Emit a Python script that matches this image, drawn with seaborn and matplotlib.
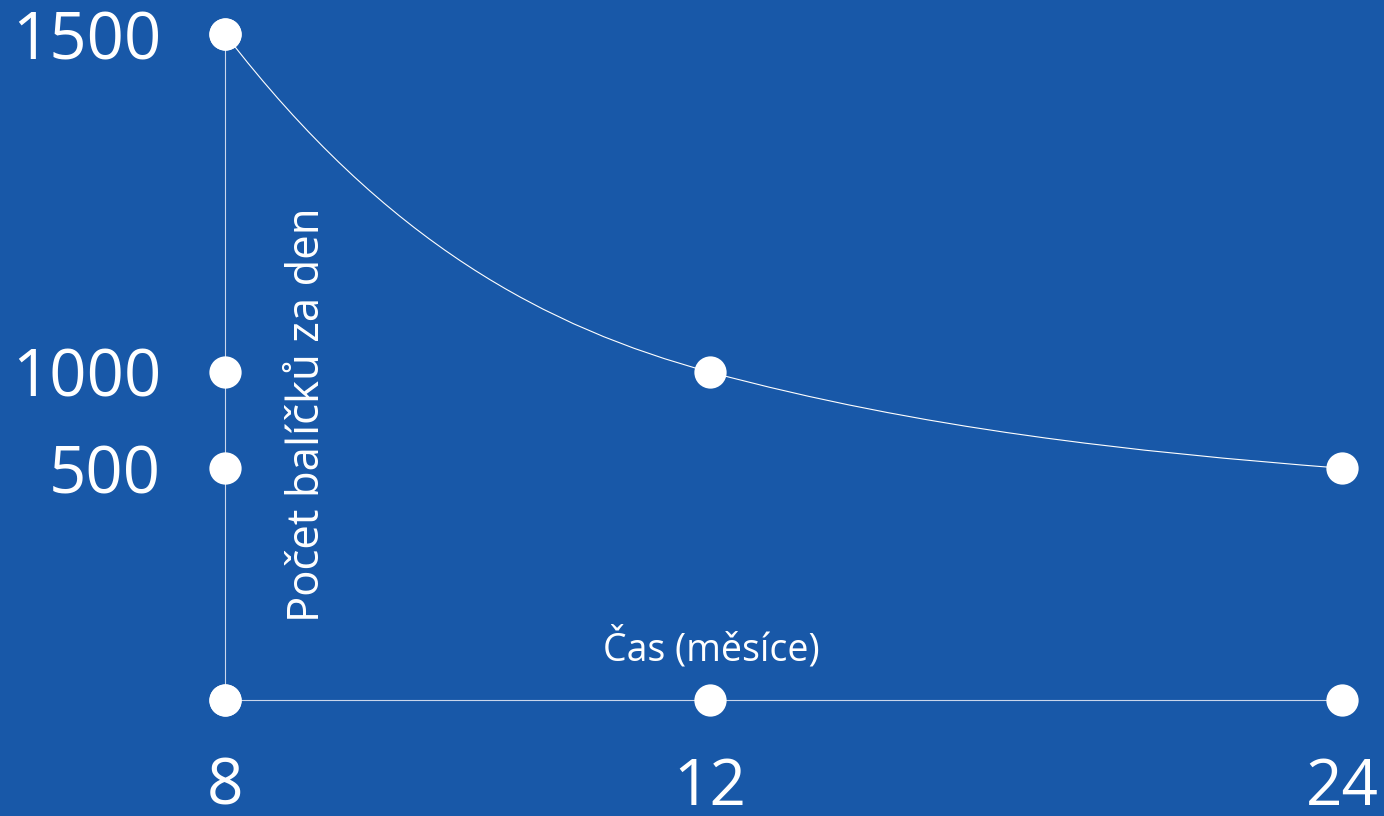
import numpy as np
import matplotlib
matplotlib.use("Agg")
import matplotlib.pyplot as plt
from matplotlib.path import Path
from matplotlib.patches import PathPatch
import seaborn as sns

# data
mesice = [8, 12, 24]
balicky = [1500, 1000, 500]
x_ticks = [8, 12, 24]
y_ticks = [0, 500, 1000, 1500]
x_labels = ["8", "12", "24"]
y_labels = ["", "500", "1000", "1500"]

# uneven axis layout: where each tick sits along its axis (0..1)
x_pos = [0, 0.434, 1]
y_pos = [0, 0.348, 0.4925, 1]

bg = "#1858A8"
axis_col = "#c9d6ec"

sns.set_style("white", {"axes.facecolor": bg, "figure.facecolor": bg})
plt.rcParams["font.family"] = ["Open Sans", "DejaVu Sans"]

fig = plt.figure(figsize=(13.84, 8.16), dpi=100)
ax = fig.add_axes([225 / 1384, 116 / 816, 1117 / 1384, 666 / 816])
ax.set_facecolor(bg)

ax.set_xscale("function", functions=(lambda v: np.interp(v, x_ticks, x_pos),
                                     lambda t: np.interp(t, x_pos, x_ticks)))
ax.set_yscale("function", functions=(lambda v: np.interp(v, y_ticks, y_pos),
                                     lambda t: np.interp(t, y_pos, y_ticks)))
ax.set_xlim(8, 24)
ax.set_ylim(0, 1500)

# os jako spines
for s in ["top", "right"]:
    ax.spines[s].set_visible(False)
for s in ["left", "bottom"]:
    ax.spines[s].set_color(axis_col)
    ax.spines[s].set_linewidth(0.8)
    ax.spines[s].set_zorder(1)

# hladka krivka pres body (Bezier)
P = ax.transData.transform(np.column_stack([mesice, balicky]))
slopes = [-1.3, -0.27, -0.078]
verts = [P[0]]
codes = [Path.MOVETO]
for i in range(len(P) - 1):
    h = (P[i + 1, 0] - P[i, 0]) / 3
    verts += [P[i] + [h, h * slopes[i]], P[i + 1] - [h, h * slopes[i + 1]], P[i + 1]]
    codes += [Path.CURVE4] * 3
verts = ax.transAxes.inverted().transform(np.array(verts))
ax.add_patch(PathPatch(Path(verts, codes), transform=ax.transAxes, fill=False,
                       edgecolor="white", lw=0.8, clip_on=False, zorder=2))

# body na osach a na krivce
dot = dict(s=540, color="white", linewidth=0, clip_on=False, zorder=4, legend=False)
sns.scatterplot(x=x_ticks, y=[0] * len(x_ticks), ax=ax, **dot)
sns.scatterplot(x=[8] * len(y_ticks), y=y_ticks, ax=ax, **dot)
sns.scatterplot(x=mesice, y=balicky, ax=ax, **dot)

ax.set_xticks(x_ticks, x_labels)
ax.set_yticks(y_ticks, y_labels)
ax.tick_params(axis="x", length=0, pad=40, labelsize=46, labelcolor="white")
ax.tick_params(axis="y", length=0, pad=46, labelsize=47, labelcolor="white")
ax.set_xlabel("")
ax.set_ylabel("")

fig.text(711 / 1384, 1 - 660 / 816, "Čas (měsíce)", ha="center", va="baseline",
         fontsize=27, color="white")
fig.text(319 / 1384, 1 - 415 / 816, "Počet balíčků za den", ha="center", va="baseline",
         rotation=90, rotation_mode="anchor", fontsize=31.5, color="white")

fig.savefig("out.png", dpi=100, facecolor=bg)
